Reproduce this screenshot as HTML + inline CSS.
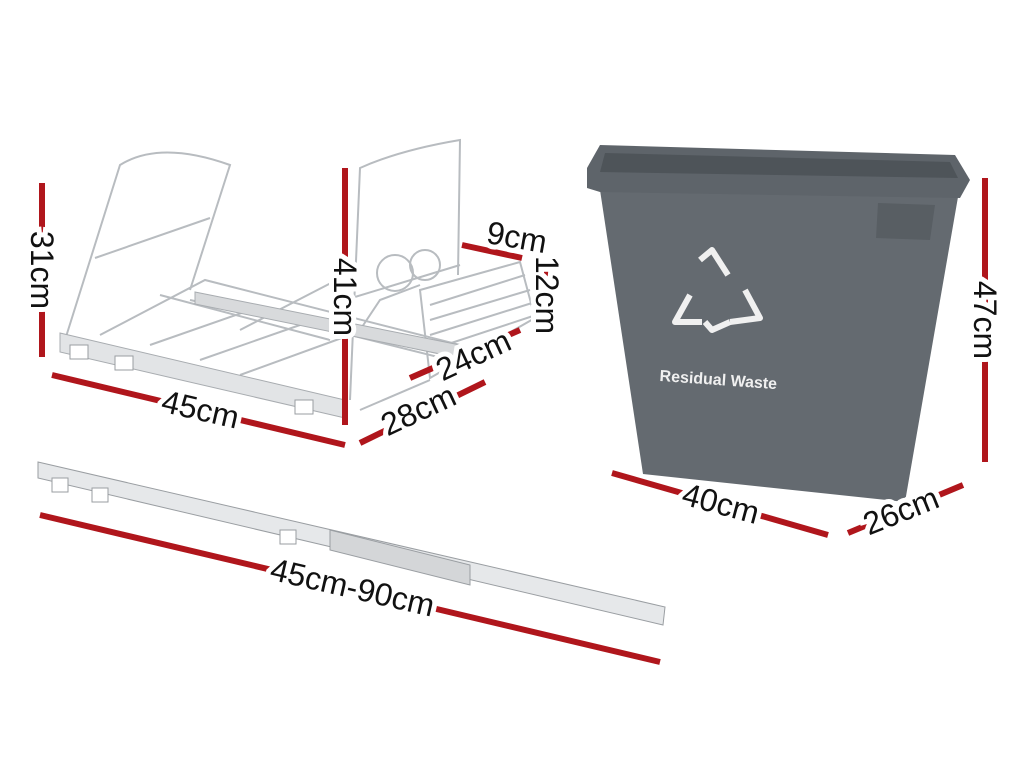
<!DOCTYPE html>
<html><head><style>html,body{margin:0;padding:0;background:#fff}svg{display:block}</style></head>
<body>
<svg width="1024" height="766" viewBox="0 0 1024 766" xmlns="http://www.w3.org/2000/svg" font-family="Liberation Sans, sans-serif">
<rect width="1024" height="766" fill="#fff"/>
<g fill="none" stroke="#b8bcc0" stroke-width="2">
<path d="M65 340 L120 165 Q160 140 230 165 L190 290"/>
<path d="M95 258 L210 218"/>
<path d="M100 335 L205 280 L460 345"/>
<path d="M150 345 L250 310 L470 365"/>
<path d="M200 360 L300 325"/>
<path d="M240 375 L350 335"/>
<path d="M330 340 L160 295"/>
<path d="M190 300 L470 360"/>
<path d="M350 400 L360 168 Q400 150 460 140 L458 275"/>
<path d="M345 300 L460 265"/>
<path d="M360 410 L430 380"/>
<path d="M420 290 L520 262 L535 318 L430 378 Z"/>
<path d="M430 305 L525 275 M430 320 L530 290 M430 335 L532 303 M430 350 L533 316"/>
<path d="M360 330 L380 300 L420 285"/>
<circle cx="395" cy="273" r="18"/><circle cx="425" cy="265" r="15"/>
<path d="M240 330 L360 268"/>
</g>
<polygon points="60,333 345,400 345,418 60,352" fill="#e2e4e6" stroke="#a8acb0"/>
<polygon points="195,292 460,345 460,358 195,304" fill="#d8dadc" stroke="#a8acb0"/>
<g fill="#fff" stroke="#9a9ea2"><rect x="70" y="345" width="18" height="14"/><rect x="115" y="356" width="18" height="14"/><rect x="295" y="400" width="18" height="14"/></g>
<polygon points="38,462 665,607 663,625 38,478" fill="#e6e8ea" stroke="#9a9ea2"/>
<polygon points="330,530 470,565 470,585 330,550" fill="#d4d6d8" stroke="#9a9ea2"/>
<g fill="#fff" stroke="#9a9ea2"><rect x="52" y="478" width="16" height="14"/><rect x="92" y="488" width="16" height="14"/><rect x="280" y="530" width="16" height="14"/></g>
<polygon points="600,190 958,197 905,502 643,474" fill="#646a70"/>
<polygon points="587,168 600,145 955,155 970,180 960,198 600,192 587,188" fill="#5e646a"/>
<polygon points="605,153 950,162 958,178 600,172" fill="#4e5459"/>
<polygon points="878,203 935,205 930,240 876,238" fill="#585e63"/>
<g fill="none" stroke="#f0f0f0" stroke-width="6" stroke-linejoin="round">
<path d="M700 260 L712 250 L728 275"/>
<path d="M690 295 L675 322 L702 322"/>
<path d="M745 290 L760 318 L730 322"/>
<path d="M705 322 L712 330 L730 322"/>
</g>
<text x="718" y="385" font-size="16" font-weight="bold" fill="#f0f0f0" text-anchor="middle" transform="rotate(4 718 385)">Residual Waste</text>
<g stroke="#b0161c" stroke-width="6" fill="none">
<path d="M42 183 L42 357"/>
<path d="M52 375 L345 445"/>
<path d="M345 168 L345 425"/>
<path d="M462 245 L522 258"/>
<path d="M547 265 L547 325"/>
<path d="M410 378 L520 330"/>
<path d="M360 443 L485 382"/>
<path d="M40 515 L660 662"/>
<path d="M612 473 L828 535"/>
<path d="M848 533 L963 485"/>
<path d="M985 178 L985 462"/>
</g>
<g font-size="32" fill="#111" stroke="#fff" stroke-width="10" paint-order="stroke" text-anchor="middle">
<text transform="translate(31 270) rotate(90)">31cm</text>
<text transform="translate(198 420) rotate(13)">45cm</text>
<text transform="translate(334 297) rotate(90)">41cm</text>
<text transform="translate(515 248) rotate(10)">9cm</text>
<text transform="translate(536 295) rotate(90)">12cm</text>
<text transform="translate(478 365) rotate(-25)">24cm</text>
<text transform="translate(423 420) rotate(-25)">28cm</text>
<text transform="translate(350 598) rotate(13)">45cm-90cm</text>
<text transform="translate(718 514) rotate(15)">40cm</text>
<text transform="translate(905 521) rotate(-22)">26cm</text>
<text transform="translate(974 320) rotate(90)">47cm</text>
</g>
</svg>
</body></html>
